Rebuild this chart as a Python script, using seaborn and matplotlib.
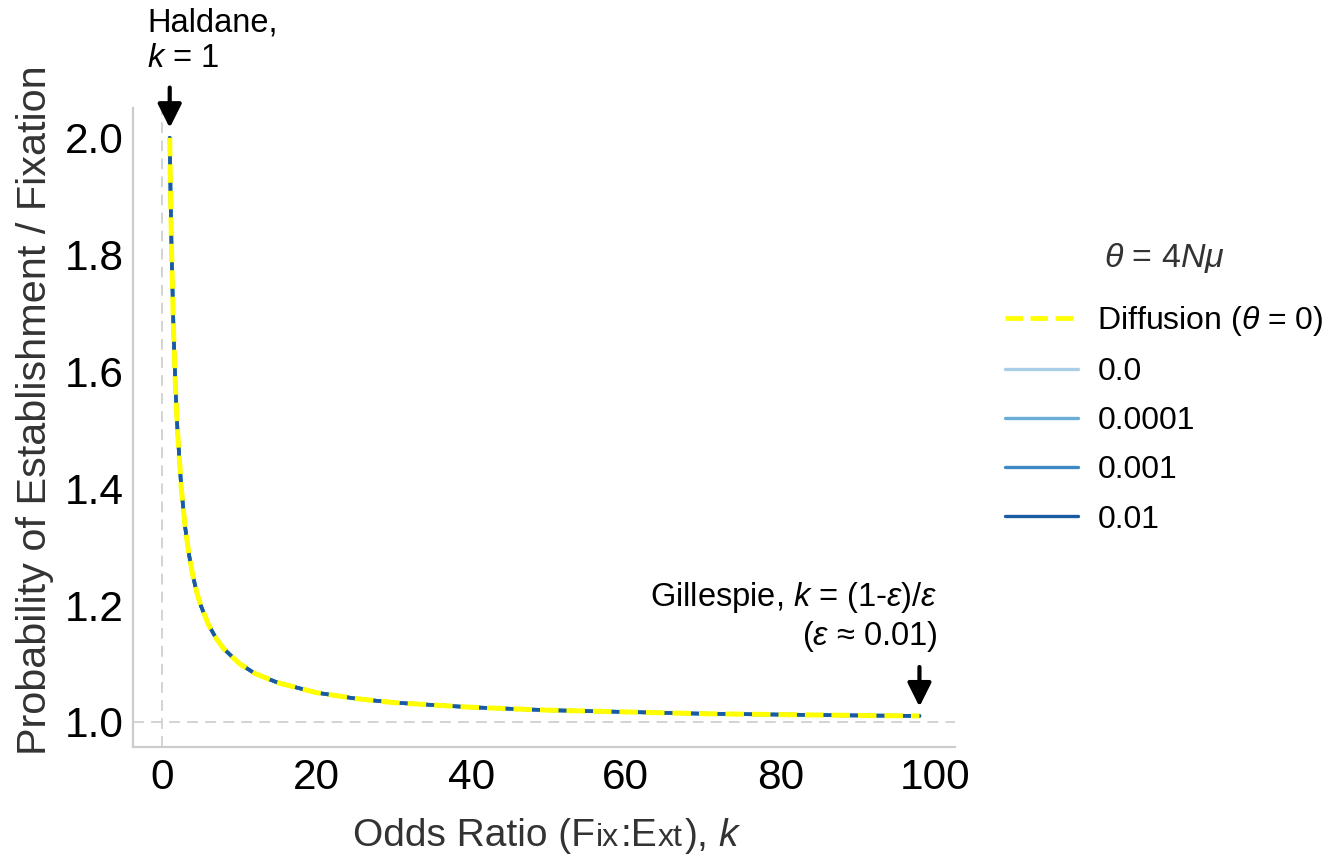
import matplotlib
matplotlib.use("Agg")
import matplotlib.pyplot as plt
from matplotlib.lines import Line2D
import numpy as np
import pandas as pd
import seaborn as sns

# ---------------- data ----------------
k_values = [1.0, 1.1, 1.25, 1.5, 1.75, 2.0, 2.5, 3.0, 3.5, 4.0, 4.5, 5.0, 6.0, 7.0,
            8.0, 10.0, 12.0, 15.0, 20.0, 25.0, 30.0, 40.0, 50.0, 60.0, 70.0, 80.0,
            90.0, 98.0]
diffusion = [2.0, 1.91, 1.8, 1.667, 1.571, 1.5, 1.4, 1.333, 1.286, 1.25, 1.222, 1.2,
             1.167, 1.143, 1.125, 1.1, 1.083, 1.067, 1.05, 1.04, 1.033, 1.025, 1.02,
             1.017, 1.014, 1.0125, 1.011, 1.0102]
theta_0 = [2.0, 1.91, 1.8, 1.667, 1.571, 1.5, 1.4, 1.333, 1.286, 1.25, 1.222, 1.2,
           1.167, 1.143, 1.125, 1.1, 1.083, 1.067, 1.05, 1.04, 1.033, 1.025, 1.02,
           1.017, 1.014, 1.0125, 1.011, 1.0102]
theta_0001 = [2.0, 1.91, 1.8, 1.667, 1.571, 1.5, 1.4, 1.333, 1.286, 1.25, 1.222, 1.2,
              1.167, 1.143, 1.125, 1.1, 1.083, 1.067, 1.05, 1.04, 1.033, 1.025, 1.02,
              1.017, 1.014, 1.0125, 1.011, 1.0102]
theta_001 = [2.0, 1.91, 1.8, 1.667, 1.571, 1.5, 1.4, 1.333, 1.286, 1.25, 1.222, 1.2,
             1.167, 1.143, 1.125, 1.1, 1.083, 1.067, 1.05, 1.04, 1.033, 1.025, 1.02,
             1.017, 1.014, 1.0125, 1.011, 1.0102]
theta_01 = [2.0, 1.91, 1.8, 1.667, 1.571, 1.5, 1.4, 1.333, 1.286, 1.25, 1.222, 1.2,
            1.167, 1.143, 1.125, 1.1, 1.083, 1.067, 1.05, 1.04, 1.033, 1.025, 1.02,
            1.017, 1.014, 1.0125, 1.011, 1.0102]
theta_labels = ["0.0", "0.0001", "0.001", "0.01"]
x_ticks = [0, 20, 40, 60, 80, 100]
y_ticks = [1.0, 1.2, 1.4, 1.6, 1.8, 2.0]

# ---------------- style ----------------
sns.set_theme(style="white")
plt.rcParams["font.family"] = ["Liberation Sans", "DejaVu Sans"]
plt.rcParams["mathtext.fontset"] = "custom"
plt.rcParams["mathtext.rm"] = "Liberation Sans"
plt.rcParams["mathtext.it"] = "Liberation Sans:italic"
plt.rcParams["mathtext.sf"] = "Liberation Sans"
plt.rcParams["mathtext.bf"] = "Liberation Sans:bold"

W, H = 1340, 856
fig = plt.figure(figsize=(W / 100, H / 100), dpi=100)
ax = fig.add_axes([133 / W, 1 - 747 / H, (955 - 133) / W, (747 - 108) / H])

blues = ["#a9cfe6", "#6aaed8", "#3d89c5", "#1a5aa2"]

frames = []
for lab, vals in zip(theta_labels, [theta_0, theta_0001, theta_001, theta_01]):
    frames.append(pd.DataFrame({"k": k_values, "prob": vals, "theta": lab}))
df = pd.concat(frames, ignore_index=True)

ax.axvline(0, color="#d0d0d0", lw=1.3, ls=(0, (6, 4)), zorder=0)
ax.axhline(1.0, color="#d0d0d0", lw=1.3, ls=(0, (6, 4)), zorder=0)

sns.lineplot(data=df, x="k", y="prob", hue="theta", hue_order=theta_labels,
             palette=blues, lw=2.6, legend=False, estimator=None, sort=False, ax=ax)
sns.lineplot(x=k_values, y=diffusion, color="#ffff00", lw=3.6, linestyle="--",
             estimator=None, sort=False, ax=ax, zorder=5)

ax.set_xlim(-3.75, 102.6)
ax.set_ylim(0.957, 2.051)
ax.set_xticks(x_ticks)
ax.set_xticklabels([str(v) for v in x_ticks])
ax.set_yticks(y_ticks)
ax.set_yticklabels([f"{v:.1f}" for v in y_ticks])
ax.tick_params(length=0, labelsize=30.5, colors="black")
ax.tick_params(axis="y", pad=7)
ax.tick_params(axis="x", pad=8)
for s in ["top", "right"]:
    ax.spines[s].set_visible(False)
for s in ["left", "bottom"]:
    ax.spines[s].set_color("#cccccc")
    ax.spines[s].set_linewidth(1.6)
ax.set_xlabel("")
ax.set_ylabel("")

# y label
fig.text(35 / W, 1 - 410 / H, "Probability of Establishment / Fixation", rotation=90,
         ha="center", va="center", fontsize=29.8, color="#333333")

# x label with small "ix" / "xt"
renderer = fig.canvas.get_renderer()
pieces = [("Odds Ratio (F", 28), ("ix", 23), (":E", 28), ("xt", 23), ("), $k$", 28)]
objs = []
total = 0
for s, size in pieces:
    t = fig.text(0, 0, s, fontsize=size, color="#333333", ha="left", va="baseline")
    w = t.get_window_extent(renderer).width
    objs.append((t, w))
    total += w + 1
x0 = 548 - total / 2
for t, w in objs:
    t.set_position((x0 / W, 1 - 846 / H))
    x0 += w + 1

# legend
handles = [Line2D([], [], color="#ffff00", lw=3.4, ls="--")]
handles += [Line2D([], [], color=c, lw=2.4) for c in blues]
labels = [r"Diffusion ($\theta$ = 0)"] + theta_labels
leg = ax.legend(handles, labels, title=r"$\theta$ = 4$N\mu$", loc="upper left",
                bbox_to_anchor=(976 / W, 1 - 212 / H), bbox_transform=fig.transFigure,
                frameon=False, fontsize=23, title_fontsize=24.5, handlelength=2.3,
                handletextpad=0.6, labelspacing=0.6, labelcolor="black")
leg.get_title().set_color("#333333")
leg._legend_box.sep = 21

# annotations
fig.text(147 / W, 1 - 8 / H, "Haldane,\n$k$ = 1", ha="left", va="top", fontsize=23.5,
         linespacing=1.15, color="black")
ax.annotate("", xy=(1, 2.017), xytext=(1, 2.086), annotation_clip=False,
            arrowprops=dict(arrowstyle="-|>", lw=3, color="black", mutation_scale=36,
                            shrinkA=0, shrinkB=0))
fig.text(938 / W, 1 - 580 / H, "Gillespie, $k$ = (1-$\\varepsilon$)/$\\varepsilon$\n($\\varepsilon$ ≈ 0.01)",
         ha="right", va="top", fontsize=23.5, linespacing=1.15, multialignment="right",
         color="black")
ax.annotate("", xy=(98, 1.026), xytext=(98, 1.094), annotation_clip=False,
            arrowprops=dict(arrowstyle="-|>", lw=3, color="black", mutation_scale=36,
                            shrinkA=0, shrinkB=0))

fig.savefig("out.png", dpi=100)
